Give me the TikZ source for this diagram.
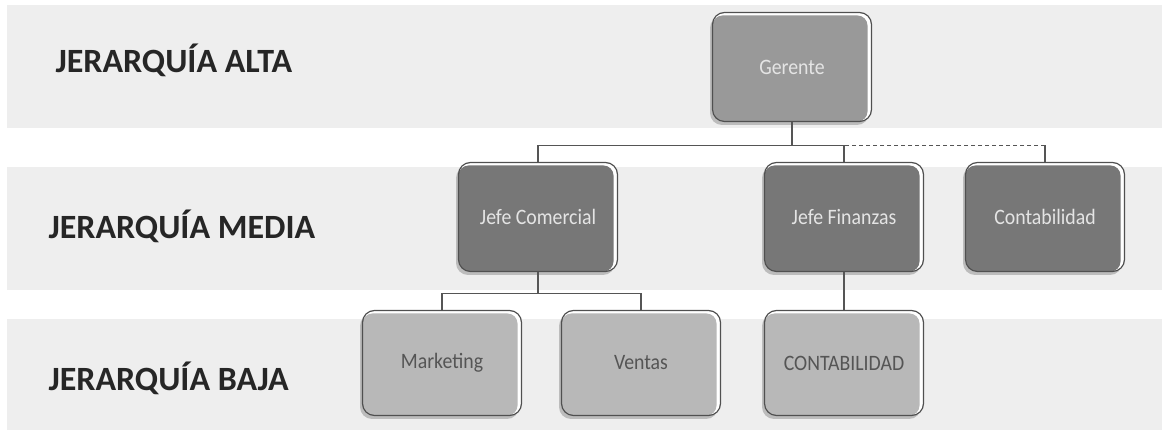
\documentclass[tikz,border=0pt]{standalone}
\usepackage{fontspec}
\setmainfont{Carlito}
\newfontfamily\boxfont{Carlito}[FakeStretch=0.9]
\usetikzlibrary{positioning, shadows}

\definecolor{bandgray}{HTML}{EEEEEE}
\definecolor{gerfill}{HTML}{999999}
\definecolor{midfill}{HTML}{777777}
\definecolor{lowfill}{HTML}{B8B8B8}
\definecolor{boxline}{HTML}{505050}
\definecolor{linkgray}{HTML}{555555}
\definecolor{lighttext}{HTML}{E4E4E4}
\definecolor{darktext}{HTML}{555555}

\begin{document}
\begin{tikzpicture}[
	x = 1pt, y = 1pt, % one unit = one pixel of the reference
	on grid, % distances are centre to centre
	link/.style = {draw = linkgray, line width = 1.1pt},
	inner fill/.style = {path picture = {
		\fill[#1, rounded corners = 10pt] (path picture bounding box.south west)
		rectangle ([xshift = -4pt, yshift = -3pt]path picture bounding box.north east);}},
	level/.style = {anchor = west, text = black!85, font = \bfseries\fontsize{34}{40}\selectfont}
	]
	\useasboundingbox (0,0) rectangle (1162,433);
	
	\tikzstyle{orgbox}=[
	rounded corners = 12pt,
	draw = boxline,
	line width = 1.2pt,
	fill = white,
	minimum width = 159pt,
	minimum height = 109pt,
	font = \boxfont\fontsize{22}{26}\selectfont,
	drop shadow = {shadow xshift = -2.5pt, shadow yshift = -3.5pt, fill = black!55, opacity = .4}
	]
	\tikzstyle{topbox}=[orgbox, inner fill = gerfill, text = lighttext]
	\tikzstyle{midbox}=[orgbox, inner fill = midfill, text = lighttext]
	\tikzstyle{lowbox}=[orgbox, inner fill = lowfill, text = darktext, minimum height = 105pt]
	
	% hierarchy bands
	\fill[bandgray] (7,305) rectangle (1162,428);
	\fill[bandgray] (7,143) rectangle (1162,266);
	\fill[bandgray] (7,3) rectangle (1162,114);
	
	\node[level] (alta) at (52,373) {JERARQUÍA ALTA};
	\node[level] (media) at (45,207) {JERARQUÍA MEDIA};
	\node[level] (baja) at (45,55) {JERARQUÍA BAJA};
	
	\node[topbox] (gerente) at (792,366) {Gerente};
	\node[midbox] (comercial) [below left = 150pt and 254pt of gerente] {Jefe Comercial};
	\node[midbox] (finanzas) [right = 306pt of comercial] {Jefe Finanzas};
	\node[midbox] (conta) [right = 201pt of finanzas] {Contabilidad};
	\node[lowbox] (marketing) [below left = 146pt and 96pt of comercial] {Marketing};
	\node[lowbox] (ventas) [right = 199pt of marketing] {Ventas};
	\node[lowbox] (contab) [below = 146pt of finanzas] {CONTABILIDAD};
	
	\draw[link] (gerente.south) -- ++(0,-23) coordinate (bus1);
	\draw[link] (comercial.north) |- (bus1) -| (finanzas.north);
	\draw[link] (conta.north) -- (conta.north |- bus1) coordinate (bus1r);
	\draw[link, dash pattern = on 4pt off 3pt] (bus1r) -- (finanzas.north |- bus1);
	
	\draw[link] (comercial.south) -- ++(0,-21) coordinate (bus2);
	\draw[link] (marketing.north) |- (bus2) -| (ventas.north);
	\draw[link] (finanzas.south) -- (contab.north);
	
\end{tikzpicture}
\end{document}
